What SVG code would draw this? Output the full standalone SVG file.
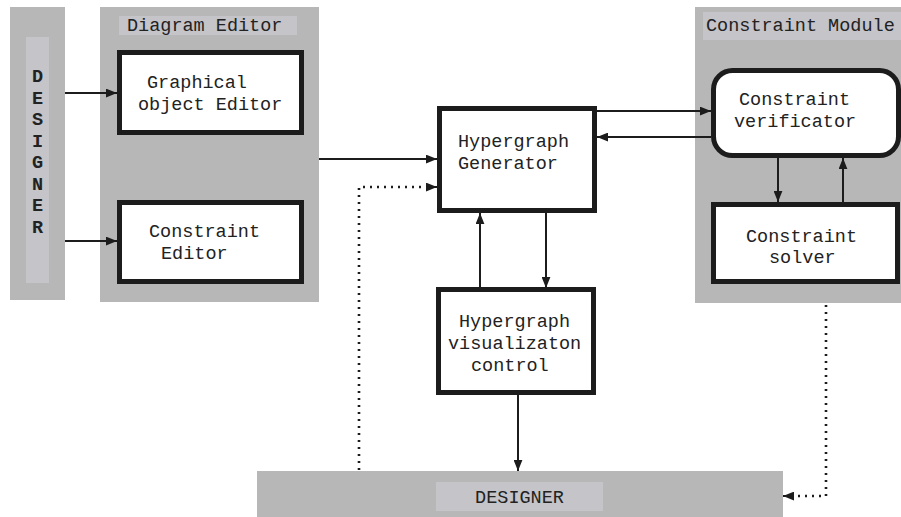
<svg xmlns="http://www.w3.org/2000/svg" width="901" height="517" viewBox="0 0 901 517">
  <style>
    .panel { fill: #b7b7b7; }
    .tag { fill: #c4c4c9; }
    .box { fill: #ffffff; stroke: #1c1c1c; stroke-width: 5; }
    .txt { font-family: "Liberation Mono", "DejaVu Sans Mono", monospace; font-size: 18.5px; fill: #222222; }
    .bold { font-weight: bold; }
    .wire { fill: none; stroke: #1c1c1c; stroke-width: 2; }
    .dots { fill: none; stroke: #1c1c1c; stroke-width: 2.6; stroke-dasharray: 2 5; }
  </style>
  <defs>
    <marker id="head" viewBox="0 0 10 8" refX="10" refY="4" markerWidth="11" markerHeight="9" markerUnits="userSpaceOnUse" orient="auto">
      <path d="M0,0 L10,4 L0,8 Z" fill="#1c1c1c"/>
    </marker>
  </defs>

  <rect width="901" height="517" fill="#ffffff"/>

  <!-- left designer strip -->
  <g id="designer-left">
    <rect class="panel" x="10" y="7" width="55" height="293"/>
    <rect class="tag" x="26" y="37" width="23" height="246"/>
    <g class="txt bold" text-anchor="middle">
      <text x="37.5" y="82">D</text>
      <text x="37.5" y="103.5">E</text>
      <text x="37.5" y="125">S</text>
      <text x="37.5" y="146.5">I</text>
      <text x="37.5" y="168">G</text>
      <text x="37.5" y="189.5">N</text>
      <text x="37.5" y="211">E</text>
      <text x="37.5" y="232.5">R</text>
    </g>
  </g>

  <!-- diagram editor panel -->
  <g id="diagram-editor">
    <rect class="panel" x="100" y="7" width="219" height="295"/>
    <rect class="tag" x="119" y="16" width="178" height="19"/>
    <text class="txt" x="127" y="31">Diagram Editor</text>
  </g>

  <g id="graphical-object-editor">
    <rect class="box" x="119.5" y="52.5" width="182" height="80"/>
    <text class="txt" x="147" y="88">Graphical</text>
    <text class="txt" x="138" y="110">object Editor</text>
  </g>

  <g id="constraint-editor">
    <rect class="box" x="119.5" y="202.5" width="182" height="79"/>
    <text class="txt" x="149" y="237">Constraint</text>
    <text class="txt" x="161" y="259">Editor</text>
  </g>

  <!-- hypergraph core -->
  <g id="hypergraph-generator">
    <rect class="box" x="439.5" y="108.5" width="155" height="102"/>
    <text class="txt" x="458" y="147">Hypergraph</text>
    <text class="txt" x="458" y="169">Generator</text>
  </g>

  <g id="hypergraph-visualization-control">
    <rect class="box" x="438.5" y="289.5" width="155" height="103"/>
    <text class="txt" x="459" y="327">Hypergraph</text>
    <text class="txt" x="448" y="349">visualizaton</text>
    <text class="txt" x="471" y="371">control</text>
  </g>

  <!-- constraint module panel -->
  <g id="constraint-module">
    <rect class="panel" x="695" y="7" width="206" height="296"/>
    <rect class="tag" x="703" y="12" width="198" height="28"/>
    <text class="txt" x="706" y="31">Constraint Module</text>
  </g>

  <g id="constraint-verificator">
    <rect class="box" x="713.5" y="70.5" width="185" height="85" rx="19" ry="19"/>
    <text class="txt" x="739" y="105">Constraint</text>
    <text class="txt" x="734" y="127">verificator</text>
  </g>

  <g id="constraint-solver">
    <rect class="box" x="713.5" y="204.5" width="184" height="77"/>
    <text class="txt" x="746" y="242">Constraint</text>
    <text class="txt" x="769" y="263">solver</text>
  </g>

  <!-- bottom designer bar -->
  <g id="designer-bottom">
    <rect class="panel" x="257" y="471" width="526" height="46"/>
    <rect class="tag" x="436" y="482" width="167" height="29"/>
    <text class="txt" x="519.5" y="503" text-anchor="middle">DESIGNER</text>
  </g>

  <!-- connectors -->
  <g id="connectors">
    <line class="wire" x1="65" y1="93" x2="117" y2="93" marker-end="url(#head)"/>
    <line class="wire" x1="65" y1="241" x2="117" y2="241" marker-end="url(#head)"/>
    <line class="wire" x1="319" y1="159" x2="437" y2="159" marker-end="url(#head)"/>
    <line class="wire" x1="597" y1="111" x2="711" y2="111" marker-end="url(#head)"/>
    <line class="wire" x1="711" y1="137" x2="597" y2="137" marker-end="url(#head)"/>
    <line class="wire" x1="480" y1="288" x2="480" y2="213" marker-end="url(#head)"/>
    <line class="wire" x1="546" y1="213" x2="546" y2="288" marker-end="url(#head)"/>
    <line class="wire" x1="518" y1="395" x2="518" y2="471" marker-end="url(#head)"/>
    <line class="wire" x1="778" y1="158" x2="778" y2="202" marker-end="url(#head)"/>
    <line class="wire" x1="843" y1="202" x2="843" y2="158" marker-end="url(#head)"/>
    <polyline class="dots" points="359,470 359,187 428,187"/>
    <line class="wire" x1="428" y1="187" x2="437" y2="187" marker-end="url(#head)"/>
    <polyline class="dots" points="826,305 826,496 792,496"/>
    <line class="wire" x1="792" y1="496" x2="783" y2="496" marker-end="url(#head)"/>
  </g>
</svg>
